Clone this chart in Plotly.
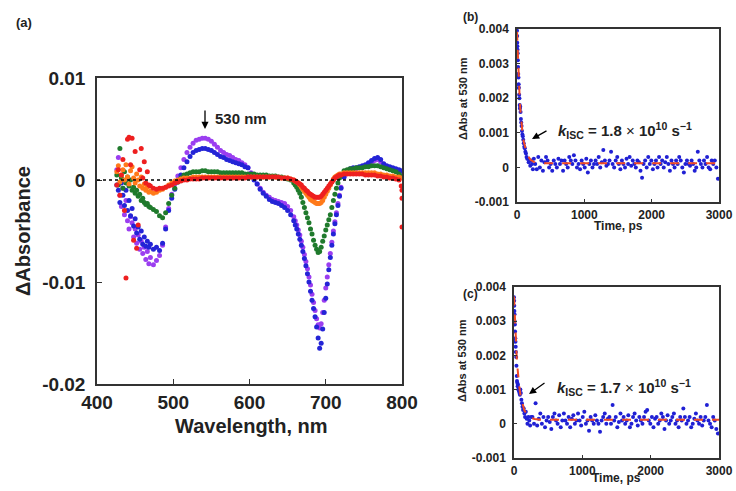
import plotly.graph_objects as go

W, H = 736, 491
FONT = "Liberation Sans, Arial, sans-serif"
MILLI = 1e-3
TENTH_MILLI = 1e-4

# ---------------- Panel (a): transient absorption spectra ----------------
wavelength = (list(range(426, 470, 2)) + list(range(470, 660, 4))
              + list(range(660, 722, 2)) + list(range(724, 802, 4)))

blue_mA = [
    -0.5, -1.0, -2.2, -0.3, -1.5, -2.5, -1.0, -3.0, -2.0, -3.5, -2.8, -4.5, -3.8, -5.2, -4.6, -5.8, -5.0, -6.3, -5.6, -6.5, -6.0, -6.6,
    -6.3, -6.8, -6.6, -6.9, -6.2, -4.8, -3.0, -1.8, -0.9, -0.2,
    0.5, 1.2, 1.8, 2.3, 2.7, 2.9, 3.0, 3.1, 3.1, 3.0,
    2.9, 2.7, 2.5, 2.3, 2.2, 2.0, 1.9, 1.8, 1.7, 1.6,
    1.5, 1.3, 1.2, 0.6, 0.0, -0.4, -0.9, -1.3, -1.6, -1.9,
    -2.1, -2.2, -2.3, -2.5, -2.7, -3.0, -3.4, -4.0,
    -4.4, -4.8, -5.3, -5.8, -6.4, -7.0, -7.7, -8.4, -9.2, -10.0,
    -10.9, -11.8, -12.6, -13.4, -14.4, -15.5, -16.5, -16.0, -14.6, -13.0,
    -11.6, -10.2, -8.8, -7.6, -6.4, -5.3, -4.3, -3.4, -2.5, -1.6,
    -0.8,
    0.3, 0.9, 1.1, 1.2, 1.2, 1.3, 1.4, 1.5, 1.7, 1.9,
    2.1, 2.2, 2.0, 1.6, 1.4, 1.3, 1.2, 1.1, 1.0, 0.9,
]
purple_mA = [
    1.0, 2.2, -1.5, -2.6, -0.8, -3.4, -2.0, -4.0, -4.8, -3.6, -4.2, -5.6, -4.8, -6.2, -5.4, -6.8, -6.0, -7.2, -6.6, -7.8, -7.0, -8.2,
    -7.6, -8.3, -7.9, -7.4, -6.4, -4.6, -2.8, -1.4, -0.4, 0.4,
    1.2, 2.0, 2.7, 3.2, 3.6, 3.9, 4.0, 4.1, 4.1, 4.0,
    3.8, 3.5, 3.2, 2.9, 2.7, 2.5, 2.4, 2.2, 2.0, 1.9,
    1.7, 1.5, 1.2, 0.7, 0.1, -0.4, -0.8, -1.2, -1.5, -1.7,
    -1.9, -2.0, -2.1, -2.2, -2.3, -2.6, -3.0, -3.6,
    -4.0, -4.4, -4.9, -5.4, -6.0, -6.6, -7.3, -8.0, -8.7, -9.5,
    -10.3, -11.2, -12.0, -12.8, -13.6, -14.2, -14.5, -14.1, -13.0, -11.8,
    -10.6, -9.5, -8.3, -7.2, -6.1, -5.0, -4.1, -3.2, -2.3, -1.5,
    -0.7,
    0.3, 0.8, 1.0, 1.1, 1.1, 1.2, 1.3, 1.4, 1.5, 1.7,
    1.9, 2.0, 1.8, 1.5, 1.3, 1.2, 1.1, 1.0, 0.9, 0.8,
]
green_mA = [
    0.5, -0.5, 3.1, 0.2, -0.8, 0.8, -0.3, 0.3, -0.6, 0.0, -1.0, -0.7, -1.3, -1.0, -1.6, -1.4, -2.0, -1.8, -2.2, -2.4, -2.3, -2.6,
    -2.7, -2.9, -3.1, -3.5, -3.7, -3.2, -2.3, -1.5, -0.8, -0.2,
    0.2, 0.5, 0.6, 0.7, 0.8, 0.8, 0.8, 0.9, 0.9, 0.8,
    0.8, 0.8, 0.8, 0.7, 0.7, 0.7, 0.7, 0.7, 0.7, 0.7,
    0.7, 0.6, 0.6, 0.6, 0.6, 0.5, 0.5, 0.5, 0.5, 0.4,
    0.4, 0.4, 0.3, 0.3, 0.2, 0.1, 0.0, -0.3,
    -0.5, -0.7, -1.0, -1.3, -1.7, -2.2, -2.7, -3.2, -3.7, -4.2,
    -4.8, -5.3, -5.9, -6.4, -6.8, -7.1, -7.0, -6.6, -6.0, -5.5,
    -4.9, -4.4, -3.9, -3.4, -2.7, -2.0, -1.4, -0.8, -0.3, 0.2,
    0.5,
    0.9, 1.0, 1.1, 1.1, 1.2, 1.2, 1.2, 1.3, 1.3, 1.4,
    1.4, 1.4, 1.3, 1.2, 1.1, 1.0, 0.9, 0.8, 0.6, 0.4,
]
orange_mA = [
    0.8, 1.4, -0.2, 0.5, 1.0, 0.0, 1.5, 0.3, -0.4, 0.9, 1.3, 0.2, -0.3, 0.6, 0.0, -0.6, 0.3, -0.8, -0.4, -1.0, -0.7, -1.2,
    -1.1, -1.3, -1.2, -1.0, -0.9, -0.7, -0.5, -0.3, -0.1, 0.0,
    0.1, 0.2, 0.2, 0.2, 0.3, 0.3, 0.3, 0.3, 0.3, 0.3,
    0.3, 0.3, 0.3, 0.3, 0.3, 0.3, 0.3, 0.3, 0.3, 0.3,
    0.3, 0.3, 0.3, 0.3, 0.3, 0.3, 0.3, 0.3, 0.3, 0.3,
    0.3, 0.3, 0.2, 0.2, 0.2, 0.2, 0.1, 0.0,
    -0.1, -0.2, -0.3, -0.5, -0.7, -0.9, -1.1, -1.3, -1.5, -1.7,
    -1.9, -2.0, -2.1, -2.2, -2.3, -2.3, -2.3, -2.2, -2.0, -1.7,
    -1.4, -1.1, -0.8, -0.5, -0.2, 0.1, 0.3, 0.4, 0.5, 0.6,
    0.6,
    0.7, 0.7, 0.7, 0.7, 0.7, 0.7, 0.7, 0.7, 0.7, 0.7,
    0.7, 0.6, 0.6, 0.5, 0.5, 0.4, 0.4, 0.3, 0.3, 0.2,
]
red_mA = [
    -0.5, 1.0, -1.5, 0.5, 2.0, -3.0, -9.6, 4.0, 4.2, 1.5, 4.1, -5.9, 2.8, -6.7, -4.4, 1.0, 3.1, 0.2, 1.8, -0.3, 0.8, -0.5,
    -0.6, -0.8, -0.9, -0.8, -0.8, -0.7, -0.6, -0.5, -0.3, -0.2,
    -0.1, 0.0, 0.0, 0.1, 0.1, 0.1, 0.1, 0.2, 0.2, 0.2,
    0.2, 0.2, 0.2, 0.2, 0.2, 0.2, 0.2, 0.2, 0.2, 0.2,
    0.2, 0.2, 0.3, 0.3, 0.3, 0.3, 0.3, 0.3, 0.3, 0.3,
    0.3, 0.3, 0.3, 0.2, 0.2, 0.2, 0.1, 0.0,
    -0.1, -0.2, -0.3, -0.4, -0.5, -0.7, -0.8, -1.0, -1.1, -1.3,
    -1.4, -1.5, -1.6, -1.7, -1.7, -1.7, -1.7, -1.6, -1.4, -1.2,
    -1.0, -0.8, -0.6, -0.4, -0.2, 0.0, 0.2, 0.3, 0.4, 0.5,
    0.5,
    0.6, 0.6, 0.6, 0.6, 0.6, 0.6, 0.6, 0.5, 0.5, 0.5,
    0.5, 0.4, 0.4, 0.3, 0.3, 0.2, 0.2, 0.1, 0.0, -1.0,
]
red_extra_wl = [799, 800, 800]
red_extra_mA = [-0.6, -1.8, -4.6]

# drawing order: purple first so blue shows in front, red last
spectra = [
    ("purple", purple_mA, "#9b3ef0"),
    ("blue", blue_mA, "#2424d6"),
    ("green", green_mA, "#1f7a2c"),
    ("orange", orange_mA, "#ff7a1a"),
    ("red", red_mA, "#ee1f1f"),
]

a_xticks = [400, 500, 600, 700, 800]
a_yticks = [-0.02, -0.01, 0, 0.01]
a_yticktext = ["-0.02", "-0.01", "0", "0.01"]

# ---------------- Panels (b) and (c): kinetics at 530 nm ----------------
t_early = [0, 2, 4, 6, 8, 10, 13, 16, 19, 22, 25, 28, 32, 36, 40, 44, 48, 53, 58, 63,
           68, 74, 80, 86, 93, 100, 108, 116, 124, 133, 142, 152, 162, 173, 185, 197, 210, 223, 236, 250]
t_tail = list(range(270, 3000, 23))

b_early = [39.5, 38, 36, 35, 34, 33, 31, 29, 27, 26, 24, 23, 21, 20, 18, 17, 17.5, 16, 14, 13,
           12, 10.5, 9.5, 9, 8, 7, 6, 5.5, 4.5, 4, 3, 2.5, 2.5, 1.5, 2, 0.5, 2, 1, -0.5, 2.5]
b_tail = [
    1, -0.5, 3, 0, 2, -1, 1.5, 3, 2, 0,
    1, -1, 2, 1, 0, 2.5, 1, 2, -1, 2,
    1, 0, 3, 2, 1, 3.5, 2, 0, 1, -0.5,
    2, 1, 0, 2.5, -1.5, 1, 2, 0, 1, 2,
    1, 3, 0, 1.5, 5, 2, 0.5, 1, 2, 4.5,
    1, 0, 2, 3, 1, -0.5, 2, 1, 0, 2.5,
    1, 3, 0.5, 2, 1, 0, 2, 1.5, -1, -3,
    1, 2, 0, 3, 1, 2, -0.5, 1, 2, 0,
    3, 1, 2, 0, 1.5, 3, 1, -1, 2, 1,
    0, 2, 1, 3, 2, 0, -1.5, 1, 2, 1,
    0.5, 2, 1, -1, 0, 4.5, 2, 1, 0, 2,
    1, 3, 0, -0.5, 2, 1, 2, 0, -3.3,
]
c_early = [37, 36, 34.5, 33, 32, 30, 29, 27, 25, 24, 22.5, 21, 19.5, 17, 14, 12.5, 12, 11, 11.5, 10,
           10, 9.5, 9, 8.5, 10, 9, 7, 6, 5, 4, 4.5, 3, 2, 3.5, 1.5, 0, 2, 1, -0.5, 2]
c_tail = [
    2, 0, 6, -0.5, 1.5, 3, 0, 2, -1, 1,
    2, 0.5, -1.5, 2, 3, 1, 0, 2.5, -1, 1,
    3, 1, 0, 2, -1, 1.5, 2.5, 0, 1, 3,
    1, -0.5, 2, 3.5, 0, 1, -2, 2, 1, 0,
    2.5, 1, 0, -2.3, 1, 2, 3, 0, 1.5, 2,
    0, 5.5, 1, 2, -1, 0.5, 3, 1, 2, 0,
    1, 2.5, -1, 0, 2, 3, 1, -0.5, 2, 1,
    0, 2, 3.5, 4, 1, 0, 2, -1, 1.5, 2,
    0, 1, 3, 2, -1.5, 1, 2.5, 0, 1, 2,
    3, 0, 1, -1, 2, 1, 4.5, 2, 0, 1,
    2, -1, 0, 1.5, 3, 1, 0, 2, -0.5, 1,
    2, 5.5, 1, 0, -1, 2, 1, -1.5, -2.8,
]
t_fit = [0, 10, 20, 30, 40, 50, 60, 80, 100, 125, 150, 200, 250, 300, 400, 3000]
b_fit = [39.2, 32.9, 27.8, 23.4, 19.8, 16.7, 14.2, 10.3, 7.5, 5.2, 3.8, 2.2, 1.6, 1.4, 1.2, 1.2]
c_fit = [37.2, 31.6, 26.8, 22.8, 19.4, 16.6, 14.2, 10.4, 7.8, 5.5, 4.0, 2.4, 1.7, 1.4, 1.2, 1.2]

k_xticks = [0, 1000, 2000, 3000]
k_yticks = [-0.001, 0, 0.001, 0.002, 0.003, 0.004]
k_yticktext = ["-0.001", "0", "0.001", "0.002", "0.003", "0.004"]

# ---------------- Build figure ----------------
def px(x):
    return x / W

def py(y):
    return 1 - y / H

fig = go.Figure()

for name, vals, col in spectra:
    fig.add_trace(go.Scatter(
        x=wavelength, y=[v * MILLI for v in vals], mode="markers", name=name,
        marker=dict(size=5, color=col, line=dict(width=0)),
        xaxis="x", yaxis="y", showlegend=False))
fig.add_trace(go.Scatter(
    x=red_extra_wl, y=[v * MILLI for v in red_extra_mA], mode="markers",
    marker=dict(size=5, color="#ee1f1f"), xaxis="x", yaxis="y", showlegend=False))

for early, tail, fit, xa, ya in [(b_early, b_tail, b_fit, "x2", "y2"),
                                 (c_early, c_tail, c_fit, "x3", "y3")]:
    fig.add_trace(go.Scatter(
        x=t_early + t_tail, y=[v * TENTH_MILLI for v in early + tail], mode="markers",
        marker=dict(size=4, color="#2020d4"), xaxis=xa, yaxis=ya, showlegend=False))
    fig.add_trace(go.Scatter(
        x=t_fit, y=[v * TENTH_MILLI for v in fit], mode="lines",
        line=dict(color="#f04a24", width=2, dash="dash"), xaxis=xa, yaxis=ya, showlegend=False))

axis_common = dict(showline=True, linecolor="#333333", linewidth=1.5, mirror=True,
                   ticks="inside", ticklen=5, tickcolor="#333333", showgrid=False,
                   zeroline=False, automargin=False)

fig.update_layout(
    width=W, height=H, margin=dict(l=0, r=0, t=0, b=0),
    paper_bgcolor="white", plot_bgcolor="white",
    font=dict(family=FONT, color="#222222"),
    xaxis=dict(domain=[px(97), px(402)], range=[400, 800], tickvals=a_xticks,
               tickfont=dict(size=19, weight="bold"), ticklabelstandoff=0,
               anchor="y", **axis_common),
    yaxis=dict(domain=[py(384), py(78)], range=[-0.02, 0.01], tickvals=a_yticks,
               ticktext=a_yticktext, tickfont=dict(size=19, weight="bold"),
               ticklabelstandoff=6, anchor="x", **axis_common),
    xaxis2=dict(domain=[px(517), px(719)], range=[0, 3000], tickvals=k_xticks,
                tickfont=dict(size=12, weight="bold"), ticklabelstandoff=1,
                anchor="y2", **axis_common),
    yaxis2=dict(domain=[py(202), py(29)], range=[-0.001, 0.004], tickvals=k_yticks,
                ticktext=k_yticktext, tickfont=dict(size=12, weight="bold"),
                ticklabelstandoff=4, anchor="x2", **axis_common),
    xaxis3=dict(domain=[px(514), px(719)], range=[0, 3000], tickvals=k_xticks,
                tickfont=dict(size=12, weight="bold"), ticklabelstandoff=1,
                anchor="y3", **axis_common),
    yaxis3=dict(domain=[py(458), py(287)], range=[-0.001, 0.004], tickvals=k_yticks,
                ticktext=k_yticktext, tickfont=dict(size=12, weight="bold"),
                ticklabelstandoff=4, anchor="x3", **axis_common),
)
for ax in ["xaxis2", "yaxis2", "xaxis3", "yaxis3"]:
    fig.layout[ax].ticklen = 3

# zero line in panel (a)
fig.add_shape(type="line", xref="x", yref="y", x0=400, x1=800, y0=0, y1=0,
              line=dict(color="black", width=1.5, dash="dot"), layer="above")

ann = []
def text(x, y, s, size, xanchor="center", angle=0):
    ann.append(dict(xref="paper", yref="paper", x=px(x), y=py(y), text=s,
                    showarrow=False, xanchor=xanchor, yanchor="middle", textangle=angle,
                    font=dict(size=size, family=FONT, color="#222222")))

text(24, 23, "<b>(a)</b>", 13)
text(470, 17, "<b>(b)</b>", 12)
text(470, 294, "<b>(c)</b>", 12)
text(251, 426, "<b>Wavelength, nm</b>", 20)
text(23, 231, "<b>ΔAbsorbance</b>", 20, angle=-90)
text(618, 226, "<b>Time, ps</b>", 12)
text(616, 478, "<b>Time, ps</b>", 12)
text(463, 99, "<b>ΔAbs at 530 nm</b>", 11, angle=-90)
text(462, 360, "<b>ΔAbs at 530 nm</b>", 11, angle=-90)
text(213, 119, "<b>530 nm</b>", 15, xanchor="left")

kb = ("<b><i>k</i></b><sub><b>ISC</b></sub><b> = 1.8 </b>× <b>10</b>"
      "<sup><b>10</b></sup><b> s</b><sup><b>−1</b></sup>")
kc = ("<b><i>k</i></b><sub><b>ISC</b></sub><b> = 1.7 </b>× <b>10</b>"
      "<sup><b>10</b></sup><b> s</b><sup><b>−1</b></sup>")
text(556, 130, kb, 15, xanchor="left")
text(555, 387, kc, 15, xanchor="left")

def arrow(xh, yh, xt, yt):
    ann.append(dict(xref="paper", yref="paper", x=px(xh), y=py(yh), ax=xt - xh, ay=yt - yh,
                    axref="pixel", ayref="pixel", text="", showarrow=True,
                    arrowhead=2, arrowsize=1.1, arrowwidth=1.3, arrowcolor="black"))

arrow(205, 129, 205, 109)
arrow(532, 139, 548, 130)
arrow(529, 394, 546, 382)

fig.update_layout(annotations=ann)
fig.write_html("out.html", config={"displayModeBar": False},
               post_script="document.body.style.margin='0';document.body.style.overflow='hidden';")
